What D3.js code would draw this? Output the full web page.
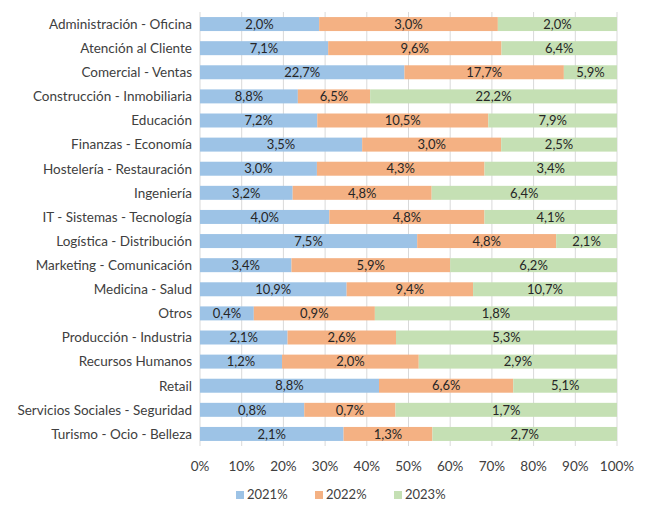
<!DOCTYPE html>
<html><head><meta charset="utf-8">
<script src="https://cdn.jsdelivr.net/npm/d3@7"></script>
<style>body{margin:0;background:#fff}</style></head>
<body><svg id="c" width="650" height="519"></svg>
<script>
const categories=["Administración - Oficina","Atención al Cliente","Comercial - Ventas","Construcción - Inmobiliaria","Educación","Finanzas - Economía","Hostelería - Restauración","Ingeniería","IT - Sistemas - Tecnología","Logística - Distribución","Marketing - Comunicación","Medicina - Salud","Otros","Producción - Industria","Recursos Humanos","Retail","Servicios Sociales - Seguridad","Turismo - Ocio - Belleza"];
const v2021=[2.0,7.1,22.7,8.8,7.2,3.5,3.0,3.2,4.0,7.5,3.4,10.9,0.4,2.1,1.2,8.8,0.8,2.1];
const v2022=[3.0,9.6,17.7,6.5,10.5,3.0,4.3,4.8,4.8,4.8,5.9,9.4,0.9,2.6,2.0,6.6,0.7,1.3];
const v2023=[2.0,6.4,5.9,22.2,7.9,2.5,3.4,6.4,4.1,2.1,6.2,10.7,1.8,5.3,2.9,5.1,1.7,2.7];
const series=["2021%","2022%","2023%"];
const colors=["#9DC3E6","#F4B183","#C5E0B4"];
const ticks=[0,0.1,0.2,0.3,0.4,0.5,0.6,0.7,0.8,0.9,1];
const svg=d3.select("#c");
const font="Lato, sans-serif";
const x=d3.scaleLinear().domain([0,1]).range([200,617]);
const y=d3.scaleBand().domain(categories).range([12,446]).paddingInner(0.42).paddingOuter(0.21);
svg.append("g").selectAll("line").data(ticks).join("line")
 .attr("x1",d=>x(d)).attr("x2",d=>x(d)).attr("y1",12).attr("y2",446).attr("stroke","#d9d9d9");
const vals=[v2021,v2022,v2023];
categories.forEach((c,i)=>{
  const tot=v2021[i]+v2022[i]+v2023[i];let acc=0;
  vals.forEach((s,k)=>{
    const f=s[i]/tot;
    svg.append("rect").attr("x",x(acc)).attr("width",x(acc+f)-x(acc)).attr("y",y(c)).attr("height",y.bandwidth()).attr("fill",colors[k]);
    svg.append("text").attr("x",(x(acc)+x(acc+f))/2).attr("y",y(c)+y.bandwidth()/2).attr("dy","0.36em")
      .attr("text-anchor","middle").attr("font-family",font).attr("font-size",13).attr("fill","#262626")
      .text(s[i].toFixed(1).replace(".",",")+"%");
    acc+=f;
  });
  svg.append("text").attr("x",192).attr("y",y(c)+y.bandwidth()/2).attr("dy","0.36em").attr("text-anchor","end")
    .attr("font-family",font).attr("font-size",13.5).attr("fill","#404040").text(c);
});
svg.append("g").selectAll("text").data(ticks).join("text").attr("x",d=>x(d)).attr("y",471).attr("text-anchor","middle")
 .attr("font-family",font).attr("font-size",13.5).attr("fill","#404040").text(d=>Math.round(d*100)+"%");
const lx=[236,315,394];
series.forEach((s,k)=>{
  svg.append("rect").attr("x",lx[k]).attr("y",491).attr("width",8).attr("height",8).attr("fill",colors[k]);
  svg.append("text").attr("x",lx[k]+11).attr("y",499).attr("font-family",font).attr("font-size",13).attr("fill","#404040").text(s);
});
</script></body></html>
